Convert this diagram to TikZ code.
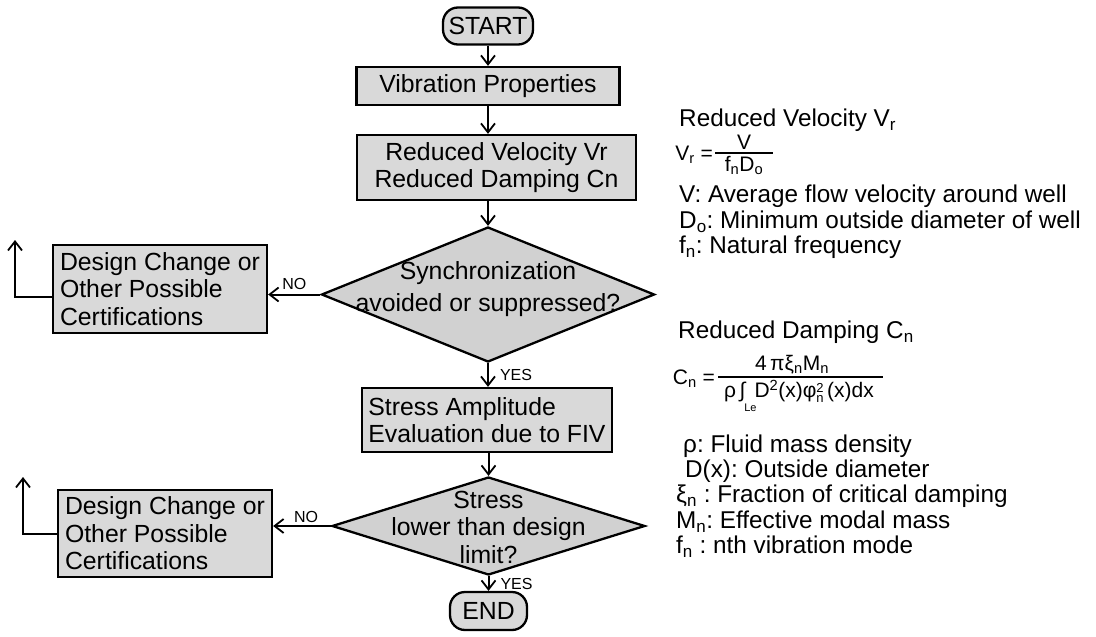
\documentclass[tikz,border=0pt]{standalone}
\usepackage{fontspec}
\setmainfont{Liberation Sans}
\usetikzlibrary{shapes.geometric, arrows.meta}
\newcommand{\flowfont}{\fontsize{24.8pt}{27.5pt}\selectfont}
\newcommand{\syncfont}{\fontsize{24.8pt}{32pt}\selectfont}
\newcommand{\notefont}{\fontsize{24.3pt}{25.4pt}\selectfont}
\newcommand{\eqnfont}{\fontsize{21pt}{23pt}\selectfont}
\newcommand{\tagfont}{\fontsize{16pt}{18pt}\selectfont}
\begin{document}
\frenchspacing
\begin{tikzpicture}[x=1pt, y=-1pt]
\tikzset{box/.style={rectangle, draw, line width=2.3pt, fill=black!15, font=\flowfont, inner sep=0pt}}
\tikzset{term/.style={box, rounded corners=15pt}}
\tikzset{decision/.style={diamond, draw, line width=2.3pt, fill=black!18, inner sep=0pt}}
\tikzset{arrow/.style={-{Straight Barb[length=9pt, width=14pt, line width=1.8pt]}, line width=2pt}}
\tikzset{tag/.style={font=\tagfont, inner sep=2pt}}
\tikzset{note/.style={anchor=west, align=left, font=\notefont, inner sep=0pt}}
\tikzset{eqn/.style={font=\eqnfont, inner sep=1pt}}
\tikzset{bar/.style={line width=1.2pt}}

\useasboundingbox (0,0) rectangle (1096,637);

% main flow
\node[term, minimum width=90pt, minimum height=37pt] (start) at (488,26) {START};
\node[box, minimum width=263pt, minimum height=38pt] (vib) at (488,86) {Vibration Properties};
\node[box, minimum width=279pt, minimum height=65pt, align=center] (red) at (496.5,167.5) {Reduced Velocity Vr\\Reduced Damping Cn};
\node[decision, minimum width=333pt, minimum height=135pt] (sync) at (488,294.5) {};
\node[font=\syncfont, align=center, inner sep=0pt] (synctext) at ([yshift=5pt]sync.center) {Synchronization\\avoided or suppressed?};
\node[box, minimum width=250pt, minimum height=64pt, align=left] (sa) at (487,420) {Stress Amplitude\\Evaluation due to FIV};
\node[decision, minimum width=313pt, minimum height=98pt] (limit) at (488.5,526) {};
\node[font=\flowfont, align=center, inner sep=0pt] (limittext) at ([yshift=-1pt]limit.center) {Stress\\lower than design\\limit?};
\node[term, minimum width=77pt, minimum height=38pt] (end) at (488.5,611) {END};

% side boxes
\node[box, minimum width=214pt, minimum height=88pt, align=left] (dc1) at (160,289) {Design Change or\\Other Possible\\Certifications};
\node[box, minimum width=214pt, minimum height=87pt, align=left] (dc2) at (165,533.5) {Design Change or\\Other Possible\\Certifications};
\coordinate (back1) at (15,240);
\coordinate (back2) at (23,477);

% connectors
\draw[arrow] (start.south) -- (start.south |- vib.north);
\draw[arrow] (vib.south) -- (vib.south |- red.north);
\draw[arrow] (sync.north |- red.south) -- (sync.north);
\draw[arrow] (sync.south) -- node[tag, right, xshift=9pt] {YES} (sync.south |- sa.north);
\draw[arrow] (limit.north |- sa.south) -- (limit.north);
\draw[arrow] (limit.south) -- node[tag, right, xshift=9pt] {YES} (end.north);
\draw[arrow] (sync.west) -- node[tag, above, yshift=2pt] {NO} (sync.west -| dc1.east);
\draw[arrow] (limit.west) -- node[tag, above, xshift=4pt] {NO} (limit.west -| dc2.east);
\draw[arrow] ([yshift=-8pt]dc1.west) -| (back1);
\draw[arrow] (dc2.west) -| (back2);

% reduced velocity notes
\node[note] (vrhead) at (679,120) {Reduced Velocity V\textsubscript{r}};
\node[eqn, anchor=base east] (vrlhs) at (714,160) {V\textsubscript{r} =};
\node[eqn, anchor=south] (vrnum) at (744,151) {V};
\node[eqn, anchor=north] (vrden) at (744,155) {f\textsubscript{n}D\textsubscript{o}};
\draw[bar] (715,153) -- (773,153);
\node[note] (vrlist) at (679,222) {V: Average flow velocity around well\\D\textsubscript{o}: Minimum outside diameter of well\\f\textsubscript{n}: Natural frequency};

% reduced damping notes
\node[note] (cnhead) at (678,332) {Reduced Damping C\textsubscript{n}};
\node[eqn, anchor=base east] (cnlhs) at (716,384) {C\textsubscript{n} =};
\node[eqn, anchor=south] (cnnum) at (792,375) {4\,πξ\textsubscript{n}M\textsubscript{n}};
\node[eqn, anchor=north] (cnden) at (799,379) {ρ\,∫\kern-1pt\raisebox{-1.2ex}{\fontsize{11pt}{11pt}\selectfont Le}\kern-2pt D\textsuperscript{2}(x)φ\raisebox{-0.45ex}{\fontsize{13pt}{11pt}\selectfont\shortstack[l]{2\\n}}\,(x)dx};
\draw[bar] (718,377) -- (883,377);
\node[note] (cnlist) at (676,496) {\hspace*{7pt}ρ: Fluid mass density\\\hspace*{9pt}D(x): Outside diameter\\ξ\textsubscript{n} : Fraction of critical damping\\M\textsubscript{n}: Effective modal mass\\f\textsubscript{n} : nth vibration mode};
\end{tikzpicture}
\end{document}
